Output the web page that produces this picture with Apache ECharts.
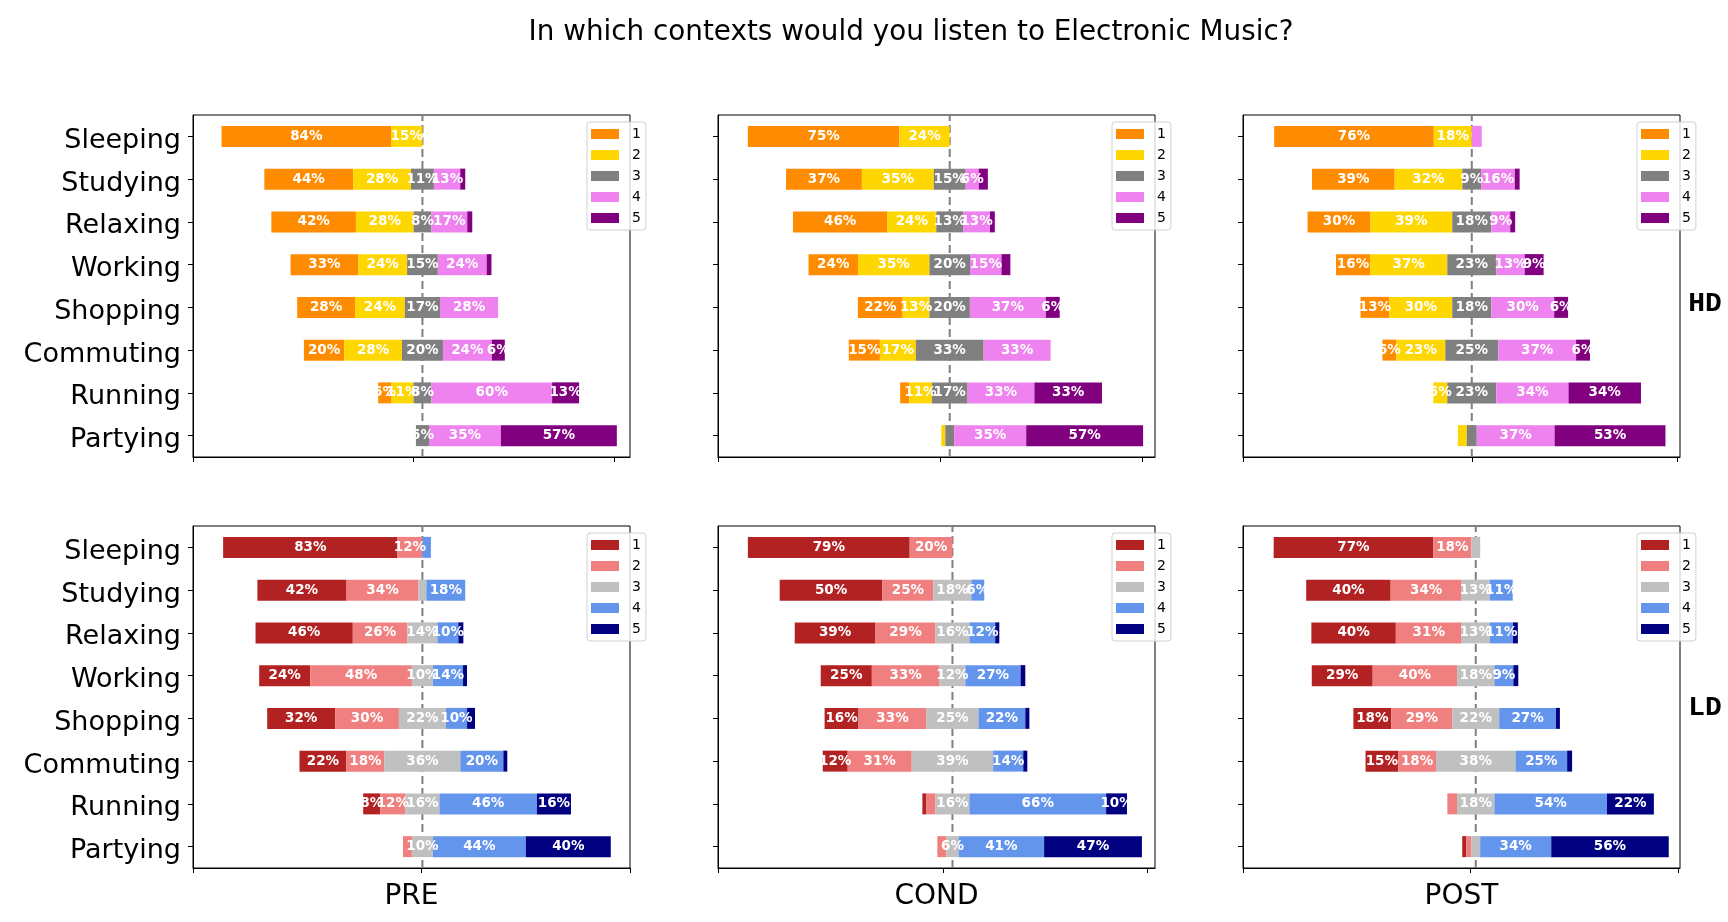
<!DOCTYPE html>
<html>
<head>
<meta charset="utf-8">
<script src="https://cdn.jsdelivr.net/npm/echarts@6/dist/echarts.min.js"></script>
<style>
  html, body { margin: 0; padding: 0; background: #fff; }
  #chart { width: 1728px; height: 922px; }
</style>
</head>
<body>
<div id="chart"></div>
<script>
// categories (top to bottom) and answer levels
const contexts = ['Sleeping', 'Studying', 'Relaxing', 'Working', 'Shopping', 'Commuting', 'Running', 'Partying']
const levels = ['1', '2', '3', '4', '5']

// share of answers per context, levels 1..5 (percent)
const hdPre = [
  [84.4, 15.6, 0, 0, 0],
  [44.2, 28.8, 11.4, 13.1, 2.5],
  [42.1, 28.7, 8.8, 17.9, 2.5],
  [33.7, 24.3, 15.3, 24.3, 2.4],
  [28.8, 24.8, 17.5, 28.9, 0],
  [20.1, 28.7, 20.4, 24.3, 6.5],
  [6.4, 11.2, 8.9, 60.1, 13.4],
  [0, 0, 6.5, 35.8, 57.7]
]
const hdCond = [
  [75.1, 24.9, 0, 0, 0],
  [37.6, 35.6, 15.8, 6.5, 4.5],
  [46.8, 24.2, 13.3, 13.3, 2.4],
  [24.5, 35.4, 20.1, 15.6, 4.4],
  [22.2, 13.3, 20.0, 37.6, 6.9],
  [15.4, 17.8, 33.6, 33.2, 0],
  [4.4, 11.3, 17.7, 33.1, 33.5],
  [0, 2.0, 4.4, 35.7, 57.9]
]
const hdPost = [
  [76.9, 18.3, 0, 4.8, 0],
  [39.8, 32.6, 9.1, 16.2, 2.3],
  [30.3, 39.4, 18.8, 9.1, 2.4],
  [16.4, 37.2, 23.6, 13.7, 9.1],
  [13.9, 30.3, 18.8, 30.3, 6.7],
  [6.7, 23.6, 25.5, 37.5, 6.7],
  [0, 6.7, 23.6, 34.8, 34.9],
  [0, 4.3, 4.8, 37.5, 53.4]
]
const ldPre = [
  [83.9, 12.0, 0, 4.1, 0],
  [42.9, 34.6, 3.8, 18.7, 0],
  [46.8, 26.3, 14.4, 10.1, 2.4],
  [24.6, 48.9, 10.1, 14.5, 1.9],
  [32.7, 30.7, 22.6, 10.2, 3.8],
  [22.6, 18.3, 36.5, 20.7, 1.9],
  [8.2, 12.1, 16.4, 46.9, 16.4],
  [0, 4.3, 10.1, 44.7, 40.9]
]
const ldCond = [
  [79.1, 20.9, 0, 0, 0],
  [50.2, 25.0, 18.5, 6.3, 0],
  [39.5, 29.3, 16.6, 12.6, 2.0],
  [25.0, 33.1, 12.6, 27.0, 2.3],
  [16.6, 33.2, 25.4, 22.9, 2.0],
  [12.2, 31.3, 39.8, 14.7, 2.0],
  [2.0, 4.4, 16.6, 66.8, 10.2],
  [0, 4.4, 6.0, 41.8, 47.8]
]
const ldPost = [
  [77.3, 18.4, 4.3, 0, 0],
  [40.9, 34.4, 13.6, 11.1, 0],
  [40.9, 31.9, 13.6, 11.2, 2.4],
  [29.5, 40.9, 18.0, 9.2, 2.4],
  [18.4, 29.5, 22.7, 27.5, 1.9],
  [15.8, 18.3, 38.5, 25.0, 2.4],
  [0, 4.7, 18.1, 54.5, 22.7],
  [2.0, 2.4, 4.3, 34.4, 56.9]
]

const phases = ['PRE', 'COND', 'POST']
const groups = ['HD', 'LD']

const hdColors = ['#ff8c00', '#ffd700', '#808080', '#ee82ee', '#800080']
const ldColors = ['#b22222', '#f08080', '#c0c0c0', '#6495ed', '#000080']

// panel layout, x range is percent around the neutral centre
const panels = [
  { data: hdPre, colors: hdColors, left: 193, top: 115, min: -114.2, max: 103.3, ticks: [-114.2, -4.8, 95.6] },
  { data: hdCond, colors: hdColors, left: 718, top: 115, min: -114.8, max: 101.7, ticks: [-114.8, -4.6, 95.3] },
  { data: hdPost, colors: hdColors, left: 1243, top: 115, min: -110.2, max: 100.3, ticks: [-110.2, 0.1, 98.9] },
  { data: ldPre, colors: ldColors, left: 193, top: 526, min: -110.4, max: 99.9, ticks: [-110.4, -0.5, 99.9] },
  { data: ldCond, colors: ldColors, left: 718, top: 526, min: -114.6, max: 99.0, ticks: [-114.6, -4.6, 95.4] },
  { data: ldPost, colors: ldColors, left: 1243, top: 526, min: -112.7, max: 98.9, ticks: [-112.7, -2.9, 97.9] }
]
const W = 437
const H = 342
const FONT = '"DejaVu Sans", sans-serif'

const chart = echarts.init(document.getElementById('chart'))

const grid = []
const xAxis = []
const yAxis = []
const series = []
const legend = []

panels.forEach((p, i) => {
  grid.push({
    left: p.left, top: p.top, width: W, height: H,
    show: true, borderColor: '#000', borderWidth: 1,
    containLabel: false, outerBoundsMode: 'none'
  })
  xAxis.push({
    type: 'value', gridIndex: i, min: p.min, max: p.max,
    axisLine: { show: true, onZero: false, lineStyle: { color: '#000', width: 1 } },
    axisTick: { show: true, length: 5, customValues: p.ticks, lineStyle: { color: '#000' } },
    axisLabel: { show: false },
    splitLine: { show: false }
  })
  yAxis.push({
    type: 'category', gridIndex: i, data: contexts, inverse: true,
    axisLine: { show: true, onZero: false, lineStyle: { color: '#000', width: 1 } },
    axisTick: { show: true, alignWithLabel: true, length: 5, lineStyle: { color: '#000' } },
    axisLabel: {
      show: i % 3 === 0, fontSize: 27, color: '#000', margin: 12, fontFamily: FONT,
      verticalAlign: 'top', lineHeight: 9
    },
    splitLine: { show: false }
  })

  // invisible base so the neutral segment is centred on 0
  const offsets = p.data.map(r => -(r[0] + r[1] + r[2] / 2))
  series.push({
    name: 'offset', type: 'bar', xAxisIndex: i, yAxisIndex: i,
    stack: 's' + i, stackStrategy: 'all', barWidth: 21, z: 2,
    itemStyle: { color: 'rgba(0,0,0,0)' }, silent: true,
    emphasis: { disabled: true },
    data: offsets
  })
  levels.forEach((lv, k) => {
    series.push({
      name: lv, type: 'bar', xAxisIndex: i, yAxisIndex: i,
      stack: 's' + i, stackStrategy: 'all', barWidth: 21, z: 2,
      itemStyle: { color: p.colors[k] },
      emphasis: { disabled: true },
      label: {
        show: true, position: 'inside', color: '#fff', fontWeight: 'bold',
        fontSize: 13.5, fontFamily: FONT,
        formatter: q => q.value >= 5 ? Math.floor(q.value + 1e-6) + '%' : ''
      },
      data: p.data.map(r => r[k])
    })
  })

  legend.push({
    left: p.left + 394, top: p.top + 7,
    orient: 'vertical', icon: 'rect', itemWidth: 28, itemHeight: 10, itemGap: 5,
    padding: [4, 5, 4, 4],
    borderColor: '#d0d0d0', borderWidth: 1, borderRadius: 3,
    backgroundColor: 'rgba(255,255,255,0.8)',
    selectedMode: false, z: 10,
    textStyle: { fontSize: 14, color: '#000', fontFamily: FONT, lineHeight: 16, padding: [0, 0, 0, 8] },
    data: levels.map((lv, k) => ({ name: lv, itemStyle: { color: p.colors[k] } }))
  })
})

// hidden 0..1 axes carrying the dashed centre lines (behind the bars)
panels.forEach((p, i) => {
  yAxis.push({ type: 'value', gridIndex: i, min: 0, max: 1, show: false })
  series.push({
    type: 'line', xAxisIndex: i, yAxisIndex: panels.length + i,
    data: [[0, 0], [0, 1]], symbol: 'none', silent: true, z: 1,
    lineStyle: { color: '#7f7f7f', width: 2, type: [8, 4] }
  })
})

const graphic = [{
  type: 'text', x: 911, y: 33,
  style: { text: 'In which contexts would you listen to Electronic Music?', font: '27.8px ' + FONT, fill: '#000', textAlign: 'center', textVerticalAlign: 'middle' }
}]
phases.forEach((ph, c) => {
  graphic.push({
    type: 'text', x: panels[c].left + W / 2, y: 897,
    style: { text: ph, font: '28px ' + FONT, fill: '#000', textAlign: 'center', textVerticalAlign: 'middle' }
  })
})
groups.forEach((g, r) => {
  graphic.push({
    type: 'text', x: 1705, y: r === 0 ? 304 : 708,
    style: { text: g, font: 'bold 28px "Liberation Mono", "DejaVu Sans Mono", monospace', fill: '#000', textAlign: 'center', textVerticalAlign: 'middle' }
  })
})

chart.setOption({
  backgroundColor: '#fff',
  animation: false,
  grid: grid,
  xAxis: xAxis,
  yAxis: yAxis,
  legend: legend,
  series: series,
  graphic: graphic
})
</script>
</body>
</html>
